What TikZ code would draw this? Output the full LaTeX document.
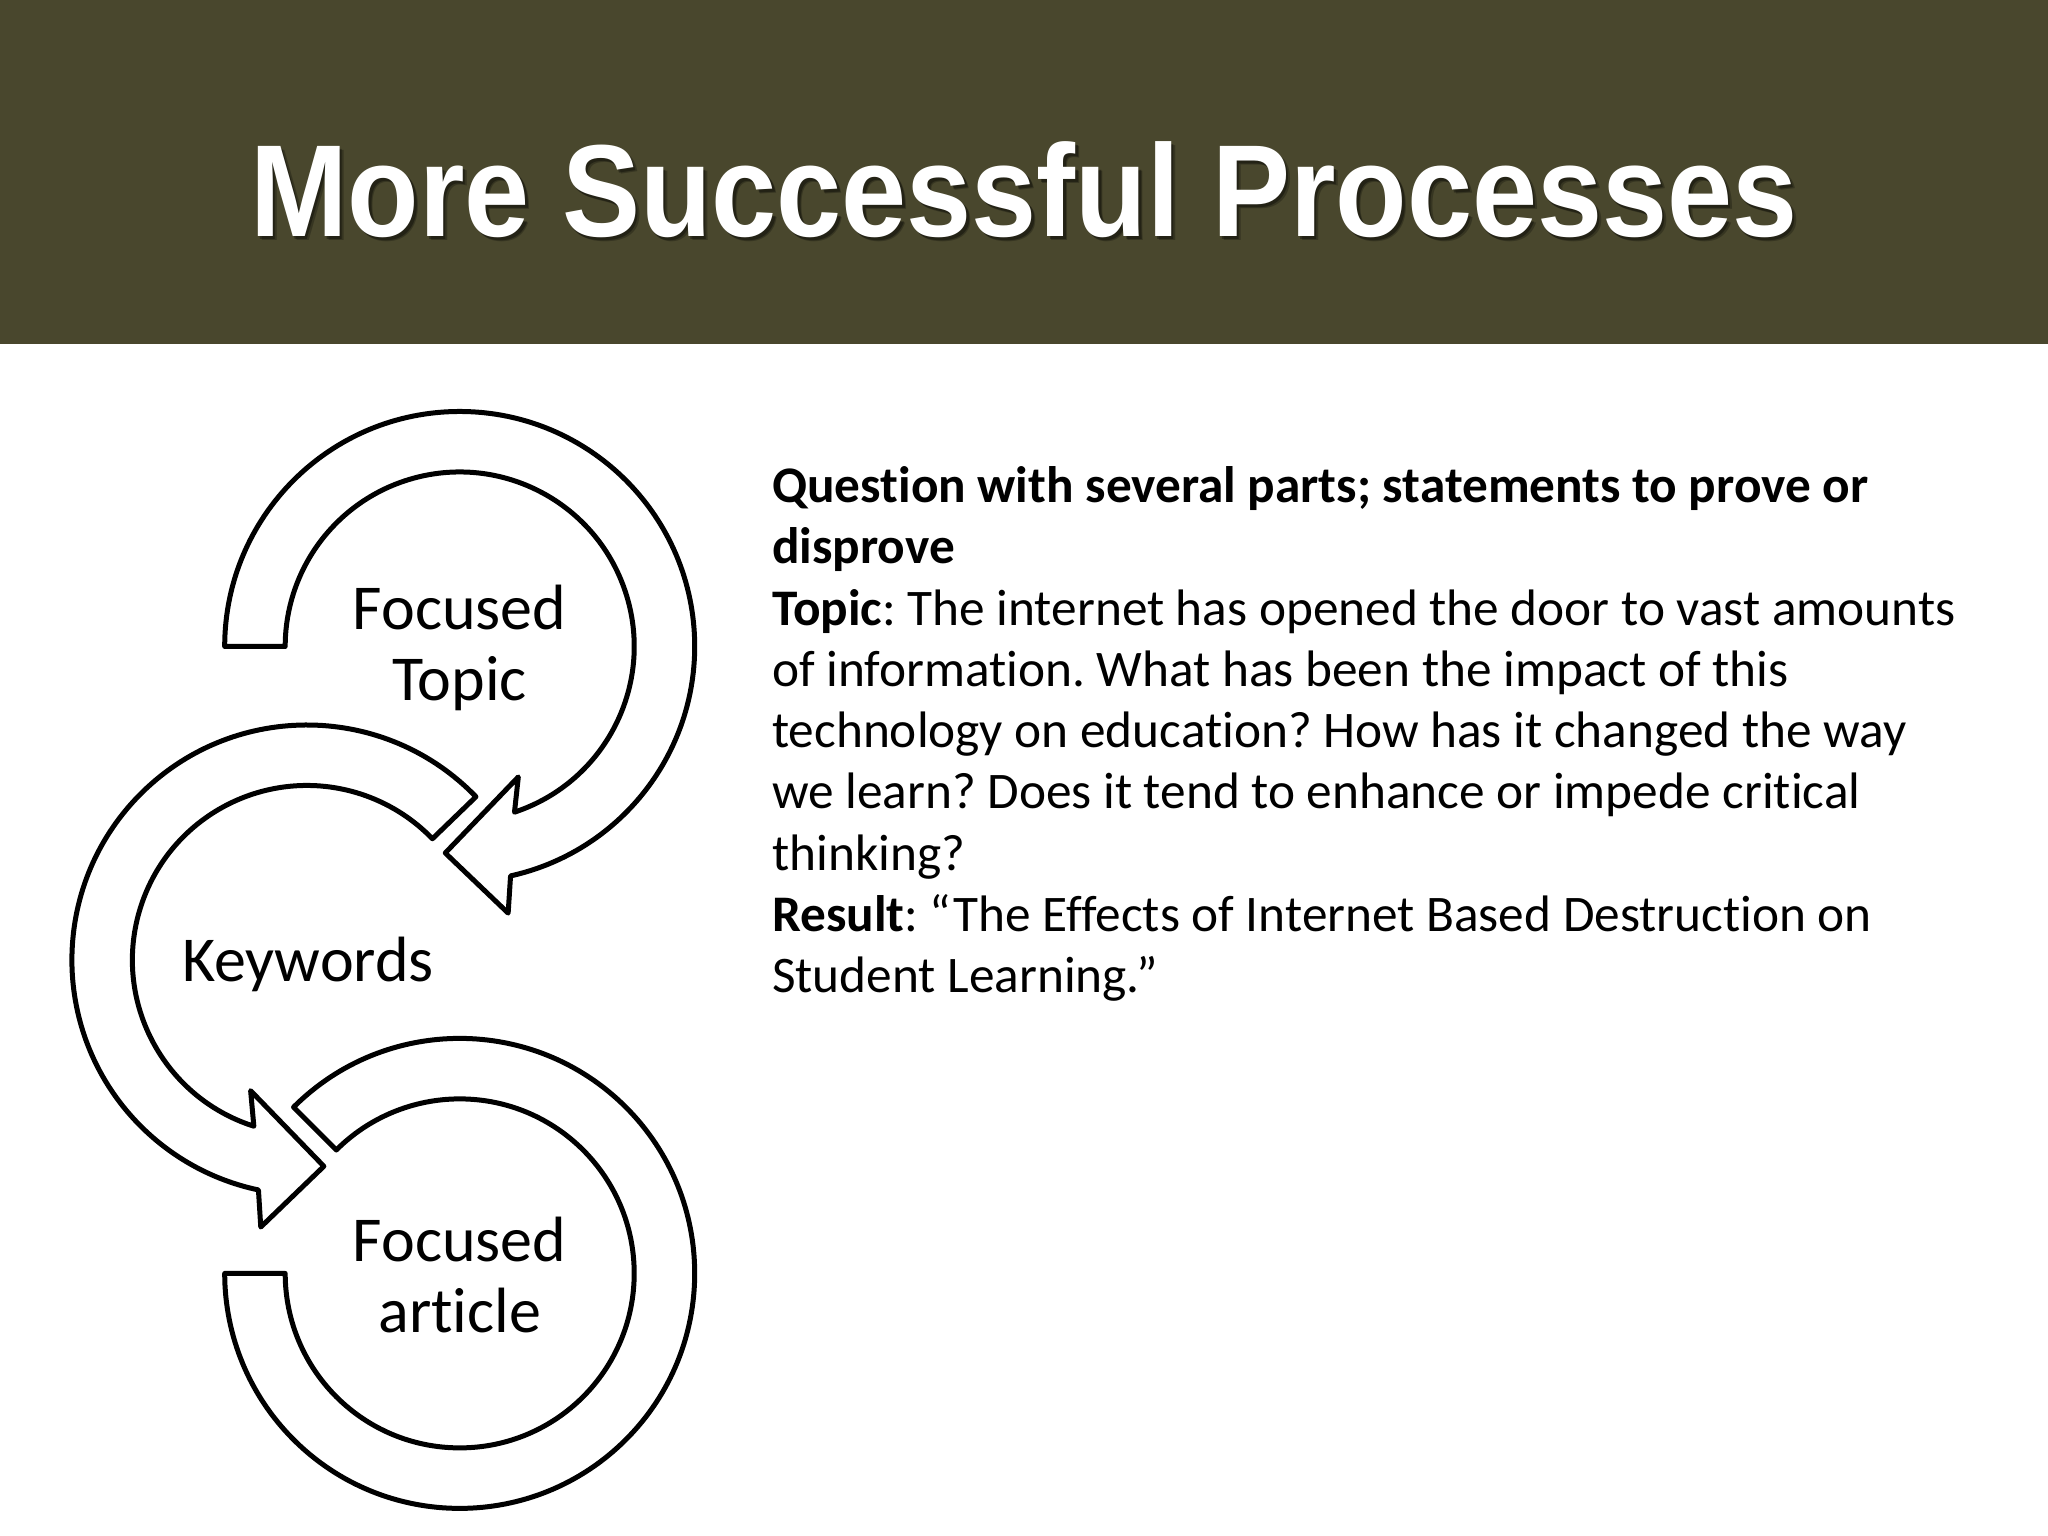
\documentclass[tikz,border=0pt]{standalone}
\usepackage{fontspec}
\usepackage{graphicx}
\setmainfont{Carlito}[Ligatures=NoCommon]
\newfontfamily\titlefont{Liberation Sans}
\definecolor{bandcol}{RGB}{73,71,45}
\frenchspacing
\begin{document}
\begin{tikzpicture}[x=1pt,y=1pt,
  ring/.style={draw=black, fill=white, line width=5pt, line join=round},
  lbl/.style={font=\fontsize{64}{71}\selectfont, align=center, inner sep=0},
  body/.style={font=\fontsize{51.3}{61}\selectfont, anchor=base west, inner sep=0},
  ttl/.style={anchor=base west, inner sep=0, font=\titlefont\bfseries\fontsize{131}{150}\selectfont}]
\useasboundingbox (0,0) rectangle (2048,1536);
\fill[white] (0,0) rectangle (2048,1536);
\fill[bandcol] (0,1192) rectangle (2048,1536);
% title with soft shadow
\node[ttl, text=black, opacity=0.25] (titleshadowa) at (254,1295.3) {\scalebox{0.893}[1]{More Successful Processes}};
\node[ttl, text=black, opacity=0.35] (titleshadowb) at (252.5,1296.8) {\scalebox{0.893}[1]{More Successful Processes}};
\node[ttl, text=white] (title) at (250,1299.3) {\scalebox{0.893}[1]{More Successful Processes}};
% circular arrows
\begin{scope}[shift={(459.7,262.6)}]
\draw[ring] (135:235) arc[start angle=135, end angle=-180, radius=235] -- (180:174.5) arc[start angle=-180, end angle=135, radius=174.5] -- cycle;
\end{scope}
\begin{scope}[shift={(306.9,576)}]
\draw[ring] (44:235) arc[start angle=44, end angle=258.1, radius=235] -- (260.2:271) -- (274.7:207) -- (246.7:142.3) -- (252.3:174.5) arc[start angle=252.3, end angle=44, radius=174.5] -- cycle;
\end{scope}
\begin{scope}[shift={(459.7,889.5)}]
\draw[ring] (180:235) arc[start angle=180, end angle=-77.5, radius=235] -- (-79.7:271) -- (-94:207) -- (-65.8:143) -- (-71.7:174.5) arc[start angle=-71.7, end angle=180, radius=174.5] -- cycle;
\end{scope}
% labels
\node[lbl] (topic) at (459.7,888) {Focused\\Topic};
\node[lbl, anchor=base] (kw) at (308,554) {Keywords};
\node[lbl] (article) at (459.7,261) {Focused\\article};
% body text
\node[body] (l1) at (772,1033.3) {\textbf{Question with several parts; statements to prove or}};
\node[body] (l2) at (772,972.05) {\textbf{disprove}};
\node[body] (l3) at (772,910.8) {\textbf{Topic}: The internet has opened the door to vast amounts};
\node[body] (l4) at (772,849.55) {of information. What has been the impact of this};
\node[body] (l5) at (772,788.3) {technology on education? How has it changed the way};
\node[body] (l6) at (772,727.05) {we learn? Does it tend to enhance or impede critical};
\node[body] (l7) at (772,665.8) {thinking?};
\node[body] (l8) at (772,604.55) {\textbf{Result}: “The Effects of Internet Based Destruction on};
\node[body] (l9) at (772,543.3) {Student Learning.”};
\end{tikzpicture}
\end{document}
